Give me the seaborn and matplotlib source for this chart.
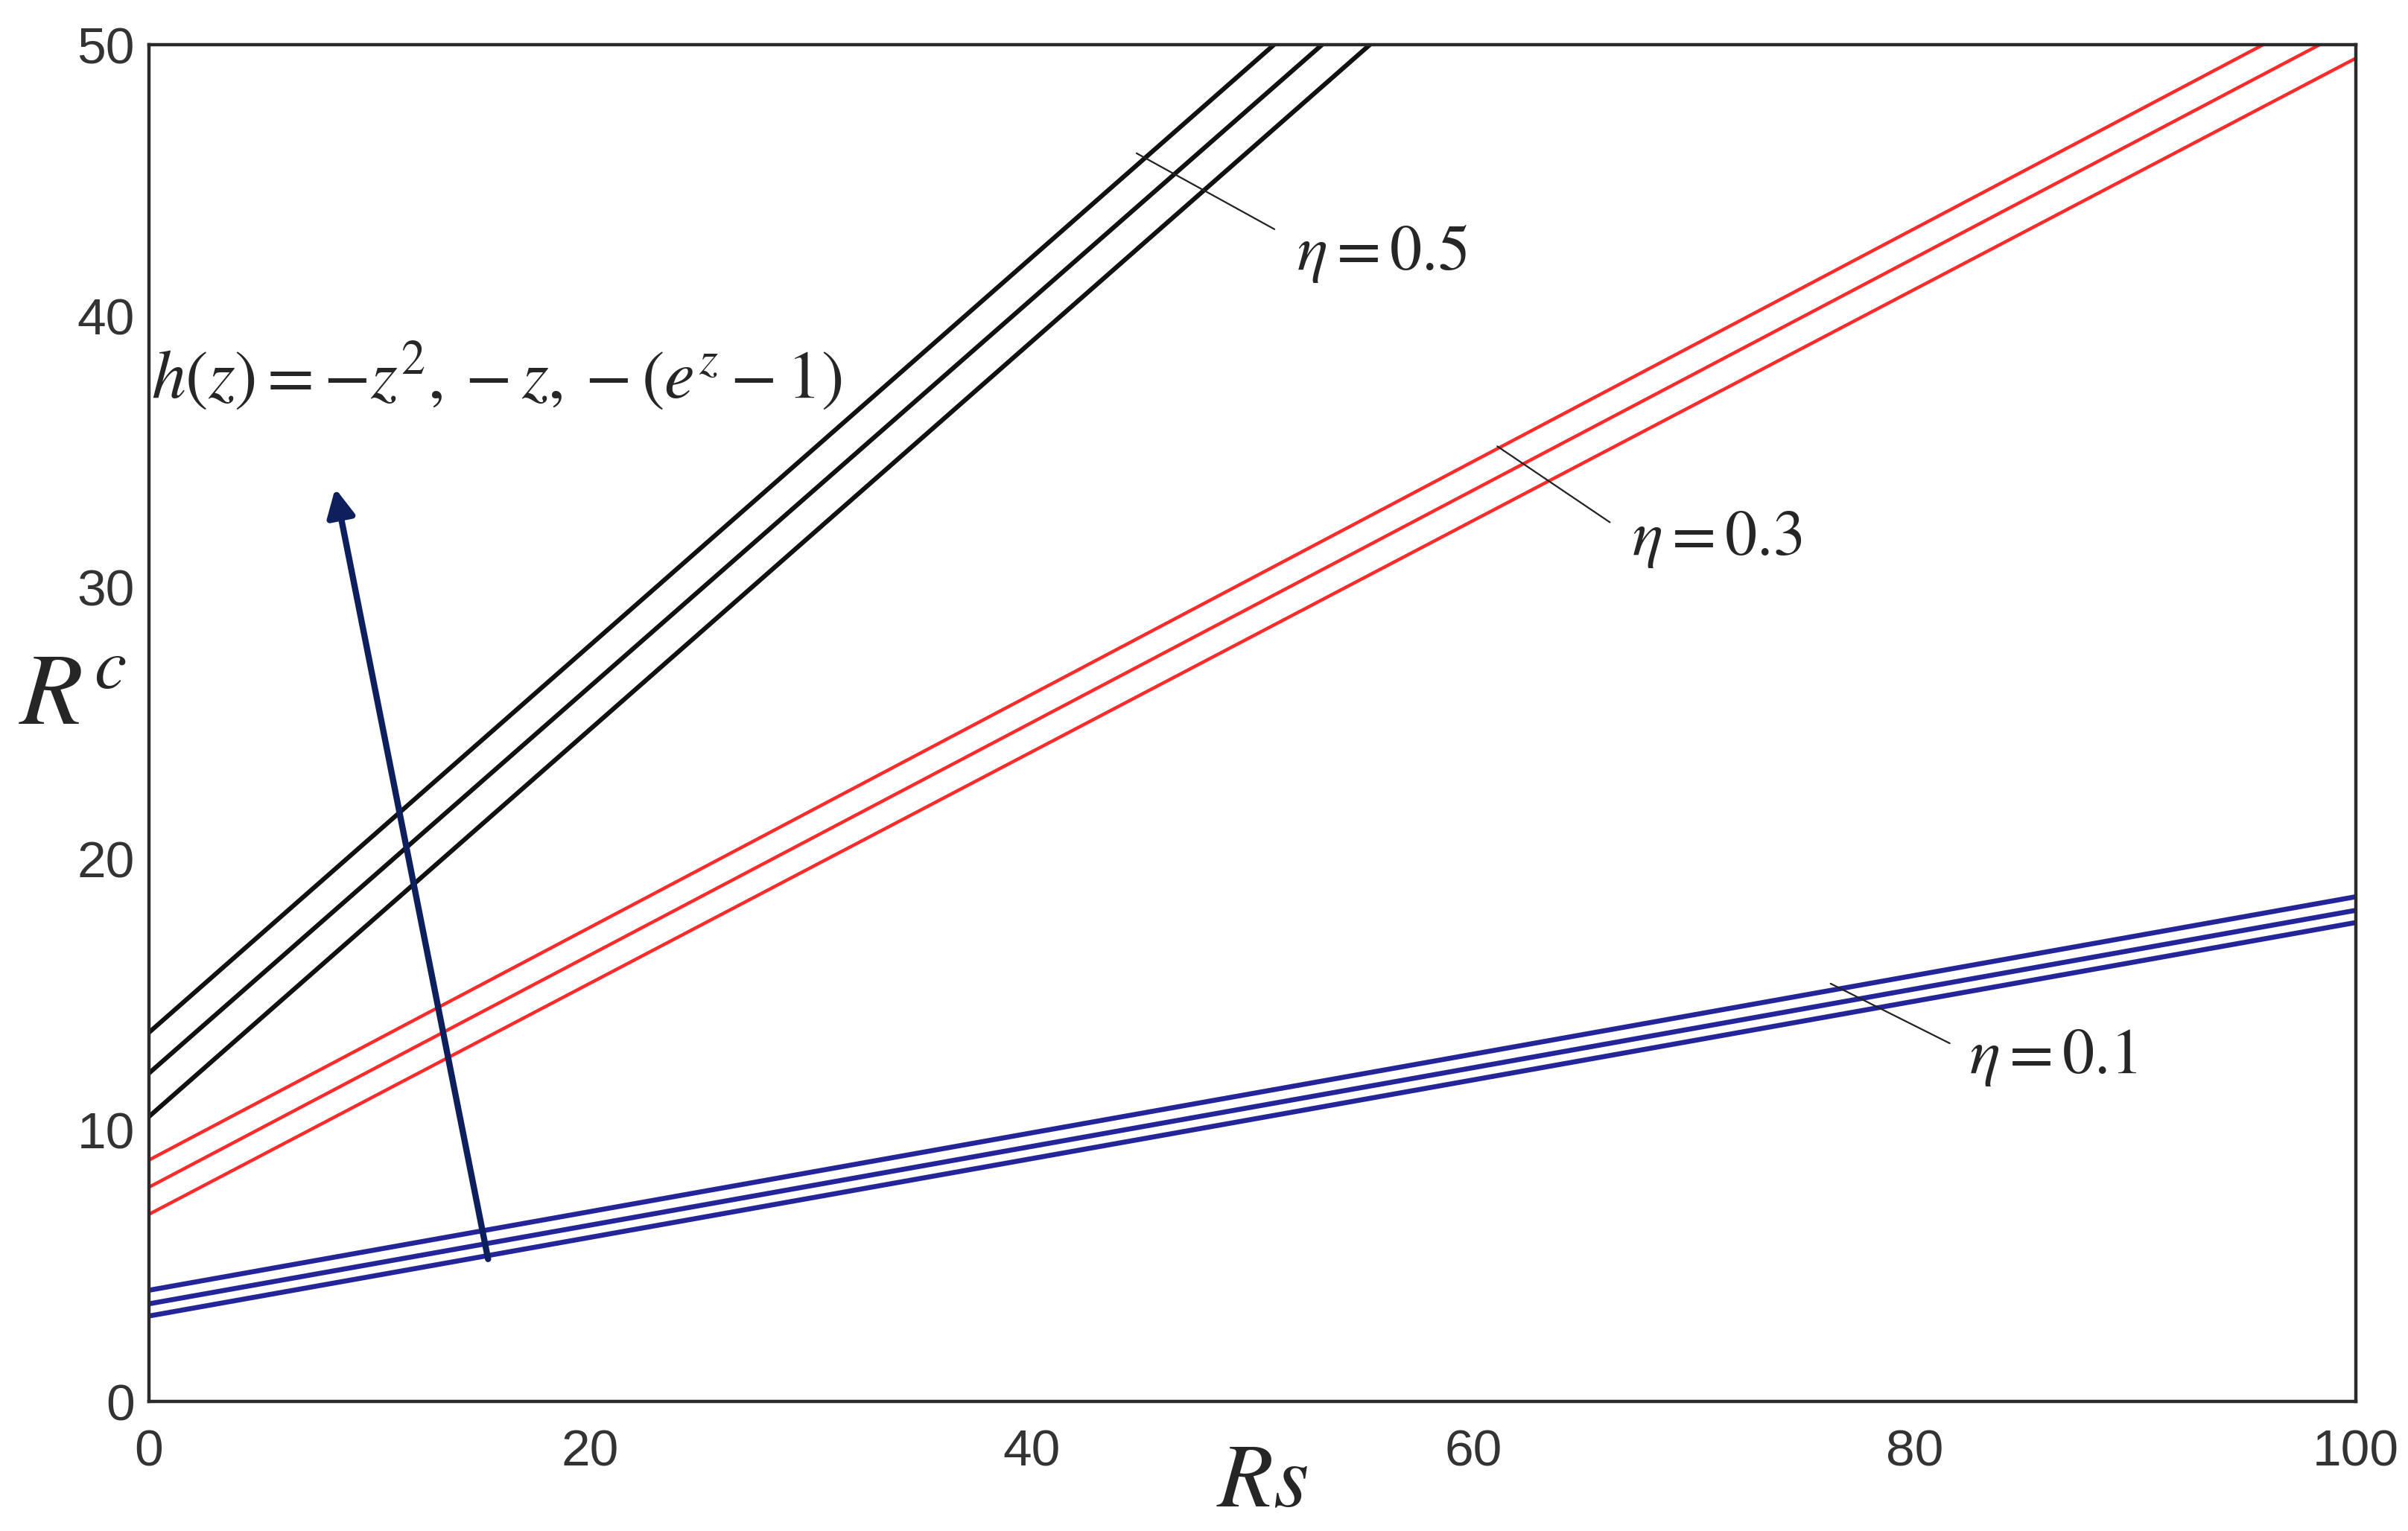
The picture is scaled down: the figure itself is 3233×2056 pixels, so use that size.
import matplotlib
matplotlib.use("Agg")
import matplotlib.pyplot as plt
import seaborn as sns
import pandas as pd

# -------------------------
# Data
# -------------------------
rs = [0, 100]

# eta = 0.5 (black), three h(z) profiles
eta05_a = [13.6, 85.0]
eta05_b = [12.1, 83.4]
eta05_c = [10.5, 81.9]

# eta = 0.3 (red)
eta03_a = [8.9, 51.8]
eta03_b = [7.9, 50.7]
eta03_c = [6.9, 49.5]

# eta = 0.1 (blue)
eta01_a = [4.1, 18.6]
eta01_b = [3.6, 18.1]
eta01_c = [3.15, 17.65]

x_ticks = [0, 20, 40, 60, 80, 100]
y_ticks = [0, 10, 20, 30, 40, 50]

series = [
    ("0.5", "a", eta05_a), ("0.5", "b", eta05_b), ("0.5", "c", eta05_c),
    ("0.3", "a", eta03_a), ("0.3", "b", eta03_b), ("0.3", "c", eta03_c),
    ("0.1", "a", eta01_a), ("0.1", "b", eta01_b), ("0.1", "c", eta01_c),
]
rows = []
for eta, prof, vals in series:
    for x, y in zip(rs, vals):
        rows.append({"Rs": x, "Rc": y, "eta": eta, "curve": eta + prof})
df = pd.DataFrame(rows)

colors = {"0.5": "#111111", "0.3": "#ff2a2a", "0.1": "#25259a"}
widths = {"0.5": 2.2, "0.3": 1.6, "0.1": 2.4}

# -------------------------
# Plot
# -------------------------
sns.set_theme(style="white")
plt.rcParams["mathtext.fontset"] = "stix"

fig = plt.figure(figsize=(3233 / 200, 2056 / 200), dpi=200)
ax = fig.add_axes([0.0619, 0.0846, 0.9164, 0.8862])

for curve, grp in df.groupby("curve"):
    eta = grp["eta"].iloc[0]
    sns.lineplot(data=grp, x="Rs", y="Rc", ax=ax, color=colors[eta],
                 linewidth=widths[eta], legend=False)

ax.set_xlim(0, 100)
ax.set_ylim(0, 50)
ax.set_xticks(x_ticks)
ax.set_yticks(y_ticks)

tick_font = ["Liberation Sans Narrow", "Liberation Sans", "DejaVu Sans"]
ax.tick_params(axis="both", direction="in", length=10, width=1.0, color="#222222",
               labelsize=25, labelcolor="#333333")
ax.tick_params(axis="x", pad=13)
ax.tick_params(axis="y", pad=7)
for lab in ax.get_xticklabels() + ax.get_yticklabels():
    lab.set_fontfamily(tick_font)

for sp in ax.spines.values():
    sp.set_color("#2a2a2a")
    sp.set_linewidth(1.6)

ax.set_xlabel("")
ax.set_ylabel("")
fig.text(0.524, 0.032, r"$Rs$", fontsize=44, ha="center", va="center")
fig.text(0.03, 0.545, r"$R^{c}$", fontsize=50, ha="center", va="center")

# arrow showing direction of h(z) profiles
ax.annotate("", xy=(8.4, 33.8), xytext=(15.4, 5.1),
            arrowprops=dict(arrowstyle="-|>", color="#0d1f5c", lw=3.0,
                            mutation_scale=28))
ax.text(0.1, 37.8, r"$h\left(z\right)=-z^{2},-z,-\left(e^{z}-1\right)$",
        fontsize=33, ha="left", va="center")

# eta labels with leader lines
labels = [
    ("0.5", (44.75, 46.0), (51.0, 43.2), (52.0, 42.3)),
    ("0.3", (61.1, 35.2), (66.2, 32.4), (67.2, 31.8)),
    ("0.1", (76.2, 15.4), (81.6, 13.2), (82.5, 12.7)),
]
for val, p0, p1, pt in labels:
    ax.plot([p0[0], p1[0]], [p0[1], p1[1]], color="#222222", lw=0.8)
    ax.text(pt[0], pt[1], r"$\eta=%s$" % val, fontsize=31, ha="left", va="center")

fig.savefig("out.png", dpi=200, facecolor="white")
